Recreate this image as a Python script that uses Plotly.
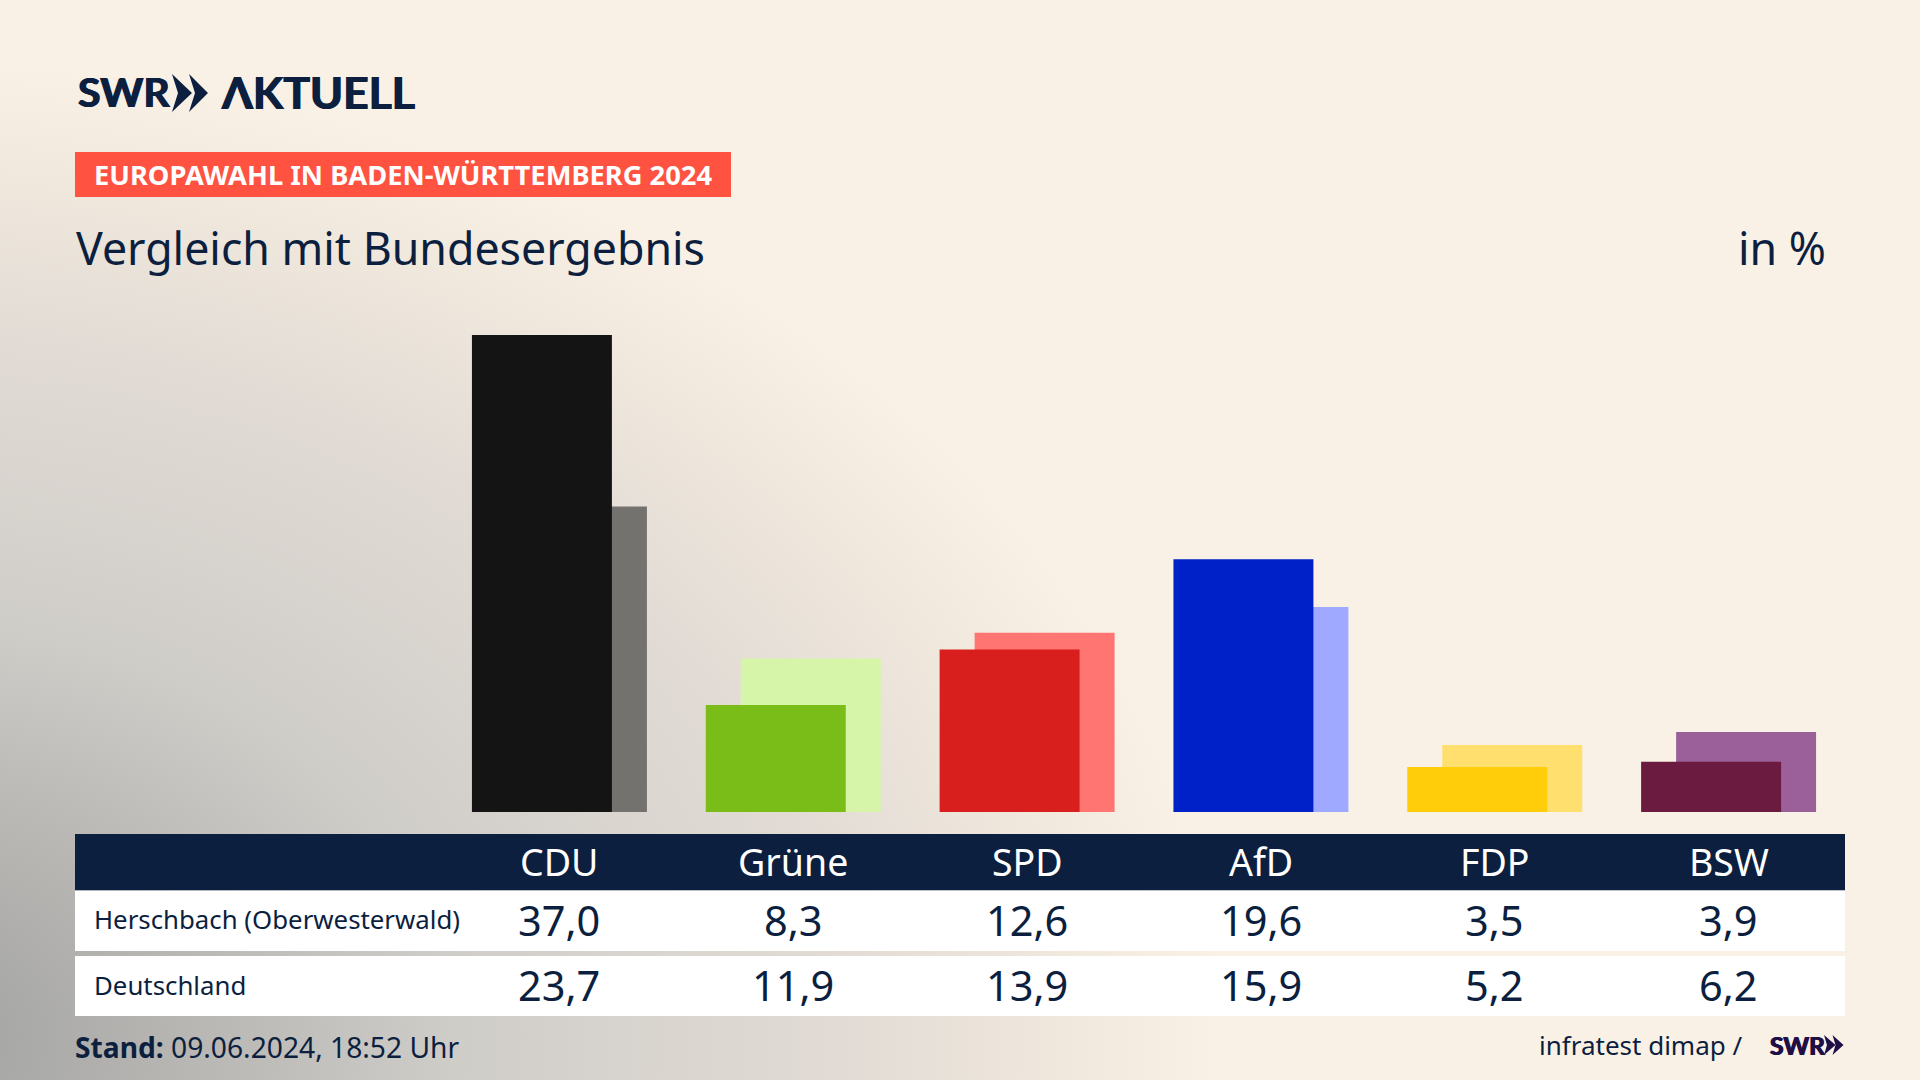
import urllib.parse
import plotly.graph_objects as go

# data
parties = ["CDU", "Grüne", "SPD", "AfD", "FDP", "BSW"]
herschbach = [37.0, 8.3, 12.6, 19.6, 3.5, 3.9]
deutschland = [23.7, 11.9, 13.9, 15.9, 5.2, 6.2]
row_names = ["Herschbach (Oberwesterwald)", "Deutschland"]

# colours
front_colors = ["#141414", "#7abd19", "#d91f1d", "#0020c8", "#ffcd0a", "#6b1a40"]
back_colors = ["#74726f", "#d6f5a8", "#ff7571", "#9fa9ff", "#ffe06e", "#9b6099"]
navy = "#0c1f3f"
logo_purple = "#1f0f45"
font = "Noto Sans"
logo_font = "Lato"


def px(x):
    return x / 1920


def py(y):
    return 1 - y / 1080


def fmt(v):
    return f"{v:.1f}".replace(".", ",")


def text(x, y, s, size, color=navy, anchor="left", xref="paper", family=font):
    return dict(
        x=x, y=py(y), xref=xref, yref="paper", text=s, showarrow=False,
        xanchor=anchor, yanchor="middle", font=dict(family=family, size=size, color=color),
    )


def logo_text(x, y, s, size, color):
    # thickened a little, the installed fonts are lighter than the logo
    t = text(px(x), y, s, size, color, family=logo_font)
    t["font"].update(weight=700, shadow=f"0.7px 0 0 {color}, -0.7px 0 0 {color}")
    return t


def rect(x0, y0, x1, y1, color):
    return dict(
        type="rect", xref="paper", yref="paper", x0=px(x0), x1=px(x1), y0=py(y0), y1=py(y1),
        fillcolor=color, line_width=0,
    )


def chevron(x, y0, y1, w, notch, color):
    # one arrow of the logo
    mid = (y0 + y1) / 2
    pts = [(x, y0), (x + w, mid), (x, y1), (x + notch, mid)]
    p = "M" + "L".join(f"{px(a):.5f},{py(b):.5f}" for a, b in pts) + "Z"
    return dict(type="path", xref="paper", yref="paper", path=p, fillcolor=color, line_width=0)


# background gradient as svg
svg = """<svg xmlns="http://www.w3.org/2000/svg" width="1920" height="1080">
<defs><radialGradient id="g" gradientUnits="userSpaceOnUse" cx="0" cy="0" r="1"
gradientTransform="translate(-120 1040) scale(1340 980)">
<stop offset="0" stop-color="#a4a4a2"/><stop offset="0.09" stop-color="#a8a8a6"/>
<stop offset="0.276" stop-color="#bdbbb8"/><stop offset="0.43" stop-color="#cfcdc8"/>
<stop offset="0.716" stop-color="#e2dbd5"/><stop offset="0.91" stop-color="#f2eade"/>
<stop offset="1" stop-color="#faf1e6"/>
</radialGradient></defs><rect width="1920" height="1080" fill="url(#g)"/></svg>"""
bg = "data:image/svg+xml," + urllib.parse.quote(svg)

fig = go.Figure()
fig.add_trace(go.Bar(
    x=parties, y=deutschland, marker=dict(color=back_colors, line_width=0),
    width=0.5986, offset=-0.2244, name="Deutschland",
))
fig.add_trace(go.Bar(
    x=parties, y=herschbach, marker=dict(color=front_colors, line_width=0),
    width=0.5986, offset=-0.3741, name="Herschbach",
))

shapes = [
    rect(75, 152, 731, 197, "#ff5240"),
    rect(75, 834, 1845, 890.5, navy),
    rect(75, 890.5, 1845, 951, "white"),
    rect(75, 956, 1845, 1016, "white"),
    chevron(172, 74, 112, 20, 6, navy),
    chevron(189, 74, 112, 19, 6, navy),
    chevron(1824, 1035, 1055, 11.5, 3, logo_purple),
    chevron(1832.5, 1035, 1055, 11, 3, logo_purple),
]

annotations = [
    logo_text(76, 92, "SWR", 41, navy),
    logo_text(219, 92, "ΛKTUELL", 44.5, navy),
    text(px(92), 175, "<b>EUROPAWAHL IN BADEN-WÜRTTEMBERG 2024</b>", 27.3, "white"),
    text(px(74), 247, "Vergleich mit Bundesergebnis", 44.7),
    text(px(1828), 247, "in %", 44.7, anchor="right"),
    text(px(92), 919, row_names[0], 25.8),
    text(px(92), 985, row_names[1], 25.8),
    text(px(73), 1047, "<b>Stand:</b> 09.06.2024, 18:52 Uhr", 28.2),
    text(px(1745), 1045, "infratest dimap /", 26, anchor="right"),
    logo_text(1768, 1045, "SWR", 24.5, logo_purple),
]
for i, p in enumerate(parties):
    annotations.append(text(p, 861, p, 37.5, "white", "center", "x"))
    annotations.append(text(p, 920, fmt(herschbach[i]), 41.5, anchor="center", xref="x"))
    annotations.append(text(p, 985, fmt(deutschland[i]), 41.5, anchor="center", xref="x"))

fig.update_layout(
    width=1920, height=1080,
    margin=dict(l=0, r=0, t=0, b=0),
    barmode="overlay",
    showlegend=False,
    paper_bgcolor="#faf1e6",
    plot_bgcolor="rgba(0,0,0,0)",
    xaxis=dict(domain=[px(442.5), px(1845.5)], range=[-0.5, 5.5], visible=False, categoryorder="array", categoryarray=parties),
    yaxis=dict(domain=[py(812), 1], range=[0, 812 / 12.89], visible=False),
    shapes=shapes,
    annotations=annotations,
    images=[dict(source=bg, xref="paper", yref="paper", x=0, y=1, sizex=1, sizey=1,
                 xanchor="left", yanchor="top", sizing="stretch", layer="below")],
)

fig.write_html("out.html", post_script="document.body.style.margin='0';", config=dict(displayModeBar=False))
